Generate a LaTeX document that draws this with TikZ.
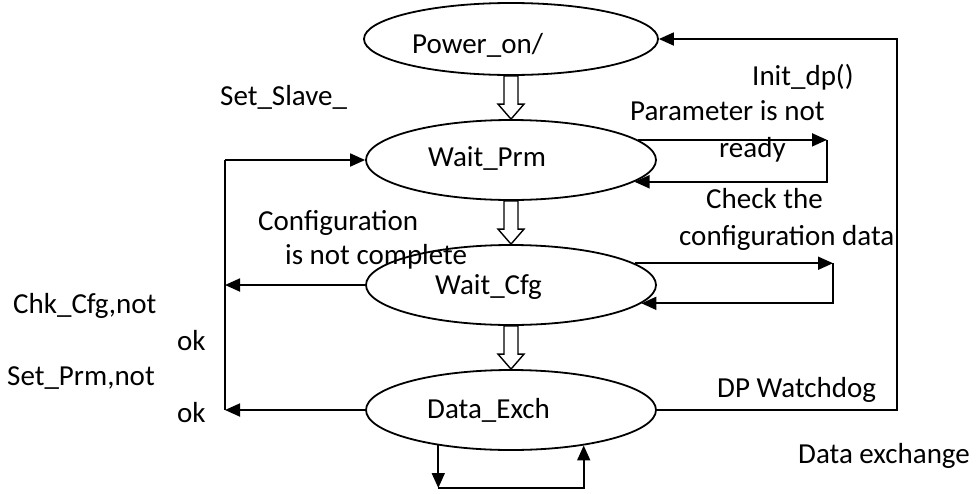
\documentclass[tikz,border=0pt]{standalone}
\usepackage{fontspec}
\setmainfont{Carlito}
\usetikzlibrary{shapes.geometric,arrows.meta,calc}
\tikzset{
  state/.style={ellipse, draw, line width=1.8pt, minimum width=290pt, minimum height=80pt, inner sep=0pt},
  lbl/.style={font=\fontsize{29}{36}\selectfont, inner sep=0pt, anchor=base west},
  arr/.style={line width=1.8pt, -{Triangle[length=15pt,width=13pt]}},
  wire/.style={line width=1.8pt},
  fat/.style={line width=1.4pt, fill=white}
}
% hollow arrow from the bottom of #1 to the top of #2
\newcommand{\fatarrow}[2]{%
  \draw[fat] ($(#1.south)+(-7,0)$) -- ($(#2.north)+(-7,-15)$) -- ($(#2.north)+(-13,-15)$)
    -- (#2.north) -- ($(#2.north)+(13,-15)$) -- ($(#2.north)+(7,-15)$) -- ($(#1.south)+(7,0)$) -- cycle;}
\begin{document}
\begin{tikzpicture}[x=1pt,y=-1pt]
\useasboundingbox (0,0) rectangle (976,493);

% states
\node[state, minimum width=294pt, minimum height=72pt] (pwr) at (511,39) {};
\node[state] (prm) at (511,160) {};
\node[state] (cfg) at (511,285) {};
\node[state] (exch) at (511,410) {};
\node[lbl] (pwrtxt) at (412,53) {Power\_on/};
\node[lbl] (prmtxt) at (428,166) {Wait\_Prm};
\node[lbl] (cfgtxt) at (435,294) {Wait\_Cfg};
\node[lbl] (exchtxt) at (427,418) {Data\_Exch};

% hollow arrows down the middle
\fatarrow{pwr}{prm}
\fatarrow{prm}{cfg}
\fatarrow{cfg}{exch}

% loops on the right
\coordinate (prmloop) at (827,0);
\coordinate (cfgloop) at (833,0);
\draw[arr] (prm.9) -- (prm.9 -| prmloop);
\draw[arr] (prm.9 -| prmloop) |- (prm.-10);
\draw[arr] (cfg.10) -- (cfg.10 -| cfgloop);
\draw[arr] (cfg.10 -| cfgloop) |- (cfg.-8);

% watchdog back to power on
\coordinate (rt) at (897,0);
\draw[arr] (exch.east) -| (rt |- pwr.east) -- (pwr.east);

% errors back to wait_prm
\coordinate (lt) at (225,160);
\draw[arr] (cfg.west) -- (cfg.west -| lt);
\draw[arr] (exch.west) -- (exch.west -| lt);
\draw[wire] (exch.west -| lt) -- (lt);
\draw[arr] (lt) -- (prm.west);

% data exchange loop
\coordinate (loopb) at (0,488);
\draw[arr] (exch.206) -- (exch.206 |- loopb);
\draw[arr] (exch.206 |- loopb) -| (exch.-26);

% labels
\node[lbl] (slave) at (220,105) {Set\_Slave\_};
\node[lbl] (init) at (752,85) {Init\_dp()};
\node[lbl] (par1) at (630,120) {Parameter is not};
\node[lbl] (par2) at (719,157) {ready};
\node[lbl] (chk1) at (706,208) {Check the};
\node[lbl] (chk2) at (679,245) {configuration data};
\node[lbl] (conf1) at (258,230) {Configuration};
\node[lbl] (conf2) at (285,264) {is not complete};
\node[lbl] (chkcfg) at (13,313) {Chk\_Cfg,not};
\node[lbl] (ok1) at (177,350) {ok};
\node[lbl] (setprm) at (7,385) {Set\_Prm,not};
\node[lbl] (ok2) at (177,422) {ok};
\node[lbl] (wdog) at (717,397) {DP Watchdog};
\node[lbl] (dex) at (798,463) {Data exchange};
\end{tikzpicture}
\end{document}
